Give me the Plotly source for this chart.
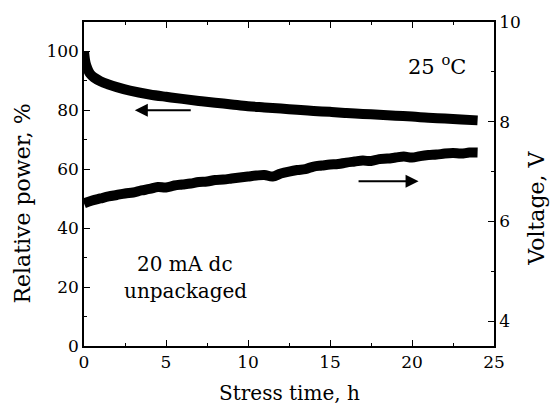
import plotly.graph_objects as go

# Relative optical power (%) vs stress time (h)
t_power = [0, 0.05, 0.1, 0.2, 0.37, 0.6, 1.0, 1.5, 2.0, 2.8, 4.0, 5.0, 6.0, 7.0,
           8.0, 9.0, 10, 11, 12, 13, 14, 15, 16, 17, 18, 19, 20, 21, 22, 23, 24]
power = [100, 97.5, 96, 94.3, 92.4, 91.2, 89.9, 88.8, 87.9, 86.7, 85.4, 84.6, 83.9, 83.2,
         82.6, 82.0, 81.4, 81.0, 80.6, 80.2, 79.8, 79.5, 79.1, 78.8, 78.5, 78.2, 77.9,
         77.5, 77.2, 76.9, 76.6]

# Forward voltage (V) vs stress time (h)
t_volt = [0, 0.5, 1, 1.5, 2, 2.5, 3, 3.5, 4, 4.5, 5, 5.5, 6, 6.5, 7, 7.5, 8, 8.5, 9, 9.5,
          10, 10.5, 11, 11.5, 12, 12.5, 13, 13.5, 14, 14.5, 15, 15.5, 16, 16.5, 17, 17.5,
          18, 18.5, 19, 19.5, 20, 20.5, 21, 21.5, 22, 22.5, 23, 23.5, 24]
voltage = [6.36, 6.42, 6.46, 6.50, 6.53, 6.56, 6.58, 6.62, 6.65, 6.69, 6.68, 6.72, 6.74,
           6.76, 6.79, 6.80, 6.83, 6.84, 6.86, 6.88, 6.90, 6.92, 6.93, 6.90, 6.96, 7.00,
           7.03, 7.05, 7.10, 7.12, 7.14, 7.15, 7.18, 7.20, 7.22, 7.21, 7.25, 7.26, 7.28,
           7.30, 7.28, 7.31, 7.33, 7.34, 7.36, 7.37, 7.36, 7.38, 7.38]

x_ticks = [0, 5, 10, 15, 20, 25]
power_ticks = [0, 20, 40, 60, 80, 100]
volt_ticks = [4, 6, 8, 10]

FONT = "DejaVu Serif"
TICK_FONT = dict(family=FONT, size=17, color="black")
TITLE_FONT = dict(family=FONT, size=22, color="black")
LABEL_FONT = dict(family=FONT, size=20, color="black")

fig = go.Figure()
fig.add_trace(go.Scatter(x=t_power, y=power, mode="lines",
                         line=dict(color="black", width=10, shape="spline"),
                         showlegend=False))
fig.add_trace(go.Scatter(x=t_volt, y=voltage, mode="lines", yaxis="y2",
                         line=dict(color="black", width=10, shape="spline"),
                         showlegend=False))

axis_common = dict(showline=True, linecolor="black", linewidth=1.5, ticks="inside",
                   tickcolor="black", tickwidth=1.3, ticklen=6, showgrid=False,
                   zeroline=False, tickfont=TICK_FONT)

fig.update_layout(
    width=554, height=413,
    margin=dict(l=84, r=60, t=16, b=67),
    paper_bgcolor="white", plot_bgcolor="white",
    font=dict(family=FONT, color="black"),
    xaxis=dict(range=[0, 25], tickvals=x_ticks, mirror="ticks",
               minor=dict(dtick=2.5, ticks="inside", ticklen=3, tickcolor="black",
                          tickwidth=1.3),
               **axis_common),
    yaxis=dict(range=[0, 110], tickvals=power_ticks,
               minor=dict(dtick=10, ticks="inside", ticklen=3, tickcolor="black",
                          tickwidth=1.3),
               **axis_common),
    yaxis2=dict(range=[3.5, 10], tickvals=volt_ticks, overlaying="y", side="right",
                minor=dict(dtick=1, ticks="inside", ticklen=3, tickcolor="black",
                           tickwidth=1.3),
                **axis_common),
)

annotations = [
    # axis titles
    dict(text="Stress time, h", xref="paper", yref="paper", x=0.5, y=-0.145,
         showarrow=False, font=dict(family=FONT, size=20, color="black"),
         xanchor="center", yanchor="middle"),
    dict(text="Relative power, %", xref="paper", yref="paper", x=-0.151, y=0.44,
         showarrow=False, font=TITLE_FONT, textangle=-90, xanchor="center",
         yanchor="middle"),
    dict(text="Voltage, V", xref="paper", yref="paper", x=1.105, y=0.424,
         showarrow=False, font=TITLE_FONT, textangle=-90, xanchor="center",
         yanchor="middle"),
    # in-plot labels
    dict(text="25 <sup>o</sup>C", x=21.5, y=95.5, xref="x", yref="y",
         showarrow=False, font=dict(family=FONT, size=21, color="black")),
    dict(text="20 mA dc", x=6.16, y=27.8, xref="x", yref="y",
         showarrow=False, font=LABEL_FONT),
    dict(text="unpackaged", x=6.16, y=18.6, xref="x", yref="y",
         showarrow=False, font=LABEL_FONT),
    # arrows pointing to each curve's axis
    dict(x=3.1, y=80, ax=6.6, ay=80, xref="x", yref="y", axref="x", ayref="y",
         showarrow=True, arrowhead=2, arrowsize=1.3, arrowwidth=2, arrowcolor="black",
         text=""),
    dict(x=20.4, y=55.9, ax=16.65, ay=55.9, xref="x", yref="y", axref="x", ayref="y",
         showarrow=True, arrowhead=2, arrowsize=1.3, arrowwidth=2, arrowcolor="black",
         text=""),
]
fig.update_layout(annotations=annotations)

fig.write_html("out.html")
